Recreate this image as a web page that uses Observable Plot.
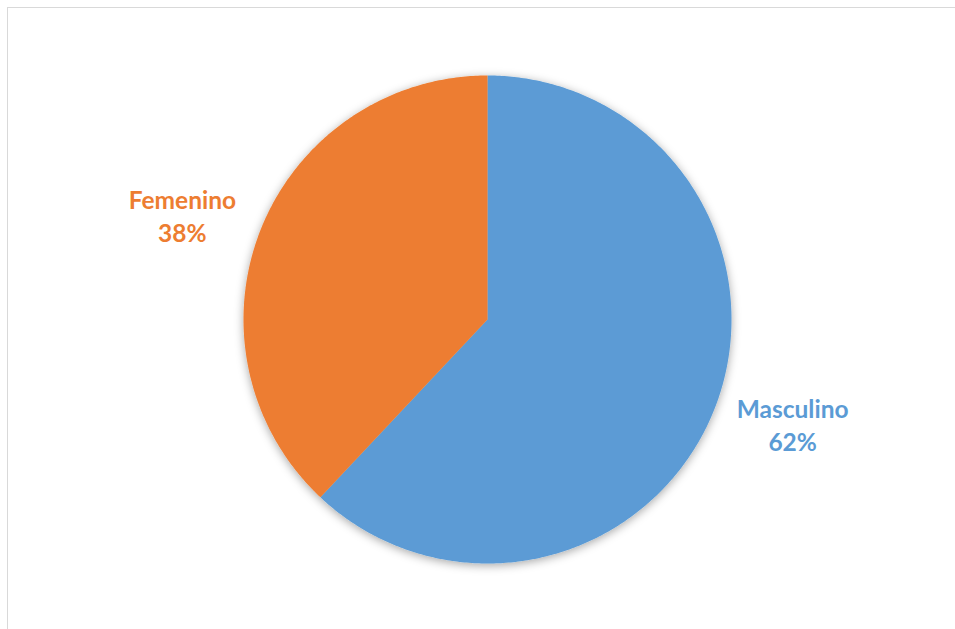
<!DOCTYPE html>
<html>
<head>
<meta charset="utf-8">
<script src="https://cdn.jsdelivr.net/npm/d3@7"></script>
<script src="https://cdn.jsdelivr.net/npm/@observablehq/plot@0.6"></script>
<style>
  html, body { margin: 0; padding: 0; background: #ffffff; }
  #wrap { position: relative; width: 955px; height: 629px; overflow: hidden; }
  #frame { position: absolute; left: 7px; top: 7px; right: -10px; bottom: -10px;
           border-left: 1.5px solid #d9d9d9; border-top: 1.5px solid #d9d9d9; pointer-events: none; }
</style>
</head>
<body>
<div id="wrap"><div id="chart"></div><div id="frame"></div></div>
<script>
// Data
const categories = ["Masculino", "Femenino"];
const values = [62, 38];
const colors = ["#5B9BD5", "#ED7D31"];

// Layout (pixels)
const W = 955, H = 629;
const cx = 487, cy = 319, R = 244;
const labelRadiusX = 1.345, labelRadiusY = 1.16;

const total = d3.sum(values);
const arcs = d3.pie().sort(null).value(d => d)(values);

// Build slice polygons in unit-radius coordinates (y downward)
const slices = arcs.map((a, i) => {
  const pts = [{x: 0, y: 0}];
  const n = Math.max(8, Math.ceil((a.endAngle - a.startAngle) / 0.01));
  for (let k = 0; k <= n; k++) {
    const t = a.startAngle + (a.endAngle - a.startAngle) * k / n;
    pts.push({x: Math.sin(t), y: -Math.cos(t)});
  }
  return pts;
});

const labelData = arcs.map((a, i) => {
  const m = (a.startAngle + a.endAngle) / 2;
  return {
    x: labelRadiusX * Math.sin(m),
    y: -labelRadiusY * Math.cos(m),
    text: categories[i] + "\n" + Math.round(values[i] / total * 100) + "%",
    color: colors[i]
  };
});

const chart = Plot.plot({
  width: W,
  height: H,
  margin: 0,
  style: {background: "#ffffff", fontFamily: "Lato, 'Open Sans', sans-serif"},
  x: {domain: [-cx / R, (W - cx) / R], range: [0, W], axis: null},
  y: {domain: [-cy / R, (H - cy) / R], range: [0, H], axis: null},
  marks: [
    ...slices.map((pts, i) => Plot.line(pts, {
      x: "x", y: "y", curve: "linear-closed",
      fill: colors[i], stroke: "none"
    })),
    Plot.text(labelData, {
      x: "x", y: "y", text: "text", fill: d => d.color,
      fontSize: 24.5, fontWeight: "bold", lineHeight: 1.35,
      textAnchor: "middle", lineAnchor: "middle"
    })
  ]
});

// soft shadow under the pie
const ns = "http://www.w3.org/2000/svg";
const defs = document.createElementNS(ns, "defs");
defs.innerHTML = '<filter id="pieShadow" x="-20%" y="-20%" width="140%" height="140%">' +
  '<feDropShadow dx="0" dy="2" stdDeviation="5" flood-color="#000" flood-opacity="0.35"/></filter>';
chart.insertBefore(defs, chart.firstChild);
const g = document.createElementNS(ns, "g");
g.setAttribute("filter", "url(#pieShadow)");
const lineGroups = chart.querySelectorAll('g[aria-label="line"]');
lineGroups[0].parentNode.insertBefore(g, lineGroups[0]);
lineGroups.forEach(el => g.appendChild(el));

document.getElementById("chart").appendChild(chart);
</script>
</body>
</html>
